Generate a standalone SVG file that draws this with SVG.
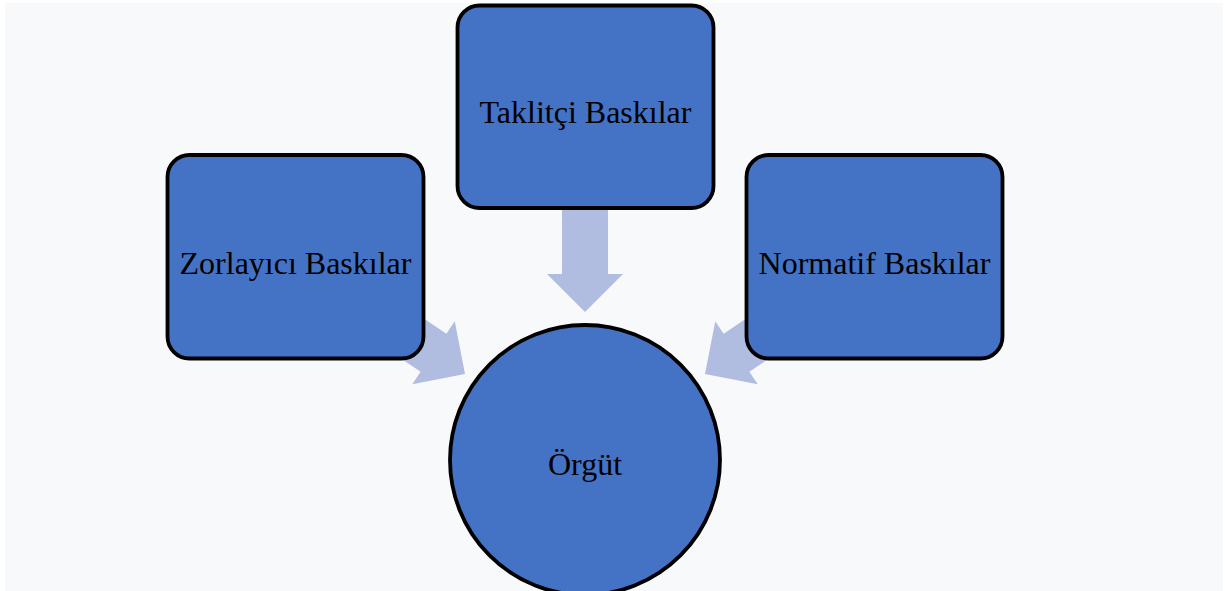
<svg xmlns="http://www.w3.org/2000/svg" width="1225" height="591" viewBox="0 0 1225 591">
<style>
.bg{fill:#f8f9fb}
.box{fill:#4472c4;stroke:#000;stroke-width:3.8}
.arr{fill:#b1bde0}
.lbl{font-family:"Liberation Serif","Times New Roman",serif;font-size:32px;fill:#000;text-anchor:middle}
</style>
<defs>
<path id="arrow" d="M-108,-23 L-38,-23 L-38,-38 L0,0 L-38,38 L-38,23 L-108,23 Z"/>
</defs>
<rect width="1225" height="591" fill="#ffffff"/>
<rect class="bg" x="5" y="3" width="1218" height="588"/>
<g id="connectors">
<use href="#arrow" class="arr" transform="translate(585,312) rotate(90)"/>
<use href="#arrow" class="arr" transform="translate(465,374) rotate(34)"/>
<use href="#arrow" class="arr" transform="translate(705,374) rotate(146)"/>
</g>
<g id="taklitci">
<rect class="box" x="457.5" y="5.5" width="256" height="202.5" rx="22"/>
<text class="lbl" x="585.5" y="123">Taklitçi Baskılar</text>
</g>
<g id="zorlayici">
<rect class="box" x="167.5" y="155" width="256" height="203.5" rx="22"/>
<text class="lbl" x="295.5" y="274">Zorlayıcı Baskılar</text>
</g>
<g id="normatif">
<rect class="box" x="746.5" y="155" width="256" height="203.5" rx="22"/>
<text class="lbl" x="874.5" y="274">Normatif Baskılar</text>
</g>
<g id="orgut">
<circle class="box" cx="585" cy="460" r="135"/>
<text class="lbl" x="585" y="475">Örgüt</text>
</g>
</svg>
